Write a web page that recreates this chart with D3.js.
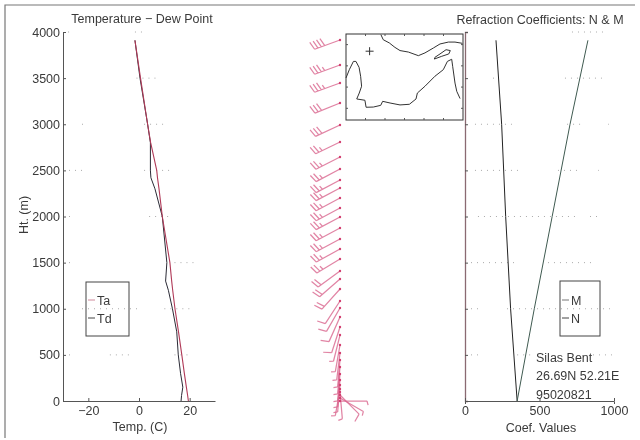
<!DOCTYPE html>
<html>
<head>
<meta charset="utf-8">
<script src="https://cdn.jsdelivr.net/npm/d3@7"></script>
<style>
  html, body { margin: 0; padding: 0; background: #fff; }
  svg { display: block; font-family: "Liberation Sans", sans-serif; filter: blur(0.45px); }
  .lab { font-size: 12.5px; fill: #3a3a3a; }
  .axis text { font-size: 12.5px; fill: #3a3a3a; }
  .axis path, .axis line { stroke: #555; }
</style>
</head>
<body>
<div id="chart"></div>
<script>
// temperature profile
const tempHt = [3910, 3500, 3000, 2800, 2500, 2420, 2300, 2000, 1500, 1300, 1200, 1000, 750, 500, 300, 150, 60, 0];
const ta = [-1.6, 0.6, 3.4, 4.6, 7, 7.3, 7.9, 9.2, 12.2, 12.9, 13.3, 14.2, 15.6, 16.9, 17.9, 18.7, 19.2, 19.5];
const td = [-1.6, 0.4, 3.4, 4.5, 4.5, 4.7, 6.3, 9.2, 11, 10.5, 11.6, 13.2, 14.9, 15.5, 16.4, 17.3, 16.8, 16.6];

// refraction coefficients
const refHt = [3910, 3000, 2000, 1000, 0];
const nVals = [208, 246, 273, 306, 350];
const mVals = [825, 705, 585, 465, 350];

// wind barbs
const windHt = [3913, 3642, 3447, 3230, 2992, 2808, 2645, 2515, 2396, 2309, 2200, 2092, 1995, 1875, 1756, 1648, 1539, 1409, 1322, 1214, 1084, 1008, 911, 802, 715, 607, 520, 444, 369, 293, 228, 173, 130, 98, 65, 33, 0];
const windDir = [250, 250, 250, 248, 245, 244, 243, 242, 242, 242, 242, 242, 242, 242, 242, 241, 239, 234, 229, 222, 213, 210, 204, 198, 194, 190, 187, 185, 185, 185, 185, 185, 190, 175, 135, 120, 90];
const windSpd = [40, 35, 35, 30, 30, 25, 25, 25, 25, 25, 25, 25, 25, 25, 25, 25, 25, 20, 20, 20, 10, 10, 10, 10, 5, 5, 5, 5, 5, 5, 5, 5, 5, 5, 10, 5, 5];

// inset map, lon / lat
const northCoast = [[52.79,27.47],[52.91,27.23],[53.22,27.08],[53.51,26.87],[53.77,26.72],[54.20,26.65],[54.71,26.48],[55.05,26.61],[55.48,26.84],[55.82,27.03],[56.25,27.12],[56.59,27.12],[56.97,27.06]];
const southCoast = [[51.00,25.43],[51.17,25.82],[51.38,26.21],[51.51,26.21],[51.67,25.93],[51.75,25.51],[51.80,25.04],[51.68,24.72],[51.55,24.44],[51.97,24.38],[52.03,24.05],[52.40,24.06],[52.78,24.14],[52.88,24.33],[53.26,24.25],[53.77,24.16],[54.25,24.19],[54.59,24.44],[54.66,24.72],[55.05,25.04],[55.56,25.51],[55.99,25.82],[56.20,26.21],[56.42,26.31],[56.47,25.98],[56.59,25.19],[56.68,24.80],[56.85,24.46]];
const island = [[55.56,26.40],[55.82,26.56],[56.13,26.76],[56.35,26.72],[56.27,26.56],[55.91,26.45],[55.53,26.32],[55.56,26.40]];
const station = [52.21, 26.69];

// faint dotted grid that survived the scan: height, from, to
const tempDots = [[4000,-28,-26],[4000,-1.6,2.4],[3500,-1,7],[3000,-22.5,-22],[3000,2,9.5],[2500,-30,-22.5],[2500,2,13],[2000,-30,-26],[2000,4,12],[1500,-30,-26.5],[1500,14,22],[1000,-22.5,0],[1000,10,21],[500,-30,-26],[500,-11.5,-2.5],[500,14,20]];
const coefDots = [[4000,718,940],[3500,188,195],[3500,671,919],[3000,67,315],[3000,685,805],[3000,960,965],[2500,67,383],[2500,624,785],[2500,893,898],[2000,87,752],[2000,839,893],[1500,0,349],[1500,557,872],[1000,0,100],[1000,282,973],[500,0,100],[500,350,456],[500,859,993]];

const svg = d3.select("#chart").append("svg").attr("width", 640).attr("height", 440);

const y = d3.scaleLinear().domain([0, 4000]).range([401, 32]);
const xTemp = d3.scaleLinear().domain([-30, 30]).range([63, 215]);
const xCoef = d3.scaleLinear().domain([0, 1000]).range([465, 614]);
const lonX = d3.scaleLinear().domain([51, 57]).range([346, 463]);
const latY = d3.scaleLinear().domain([23.45, 27.5]).range([120, 34]);

// scan border
svg.append("path").attr("d", "M5,438V5H635").attr("fill", "none").attr("stroke", "#777").attr("stroke-width", 1.2);

function dots(rows, x) {
  svg.append("g").selectAll("line").data(rows).join("line")
    .attr("x1", (d) => x(d[1])).attr("x2", (d) => x(d[2]))
    .attr("y1", (d) => y(d[0])).attr("y2", (d) => y(d[0]))
    .attr("stroke", "#aaa").attr("stroke-dasharray", "1 5");
}
dots(tempDots, xTemp);
dots(coefDots, xCoef);

// axes, ticks point inwards
const yTicks = d3.range(0, 4001, 500);
svg.append("g").attr("class", "axis").attr("transform", `translate(${xTemp(-30)},0)`)
  .call(d3.axisLeft(y).tickValues(yTicks).tickSize(-3).tickPadding(3).tickFormat(d3.format("d")));
svg.append("g").attr("class", "axis").attr("transform", "translate(0,401)")
  .call(d3.axisBottom(xTemp).tickValues([-20, 0, 20]).tickSize(-3).tickSizeOuter(0).tickPadding(5).tickFormat((d) => (d < 0 ? "\u2212" + -d : d)));
const coefAxis = svg.append("g").attr("class", "axis").attr("transform", `translate(${xCoef(0)},0)`)
  .call(d3.axisLeft(y).tickValues(yTicks).tickSize(-3).tickFormat(""));
coefAxis.select("path").style("stroke", "#8a6a72").style("stroke-width", 1.3);
svg.append("g").attr("class", "axis").attr("transform", "translate(0,401)")
  .call(d3.axisBottom(xCoef).tickValues([0, 500, 1000]).tickSize(-3).tickSizeOuter(3).tickPadding(5).tickFormat(d3.format("d")));

const tempLine = (vals) => d3.line().x((d) => xTemp(d)).y((d, i) => y(tempHt[i]))(vals);
const coefLine = (vals) => d3.line().x((d) => xCoef(d)).y((d, i) => y(refHt[i]))(vals);

svg.append("path").attr("d", tempLine(td)).attr("fill", "none").attr("stroke", "#2a2a35").attr("stroke-width", 1);
svg.append("path").attr("d", tempLine(ta)).attr("fill", "none").attr("stroke", "#b03a58").attr("stroke-width", 1.1);
svg.append("path").attr("d", coefLine(nVals)).attr("fill", "none").attr("stroke", "#222").attr("stroke-width", 1);
svg.append("path").attr("d", coefLine(mVals)).attr("fill", "none").attr("stroke", "#3f5a50").attr("stroke-width", 1);

// wind barbs, staff points to where the wind comes from
const windX = 340, staffLen = 27, featherLen = 8.5, featherGap = 3.6;
const windG = svg.append("g").attr("stroke", "#d9668e").attr("fill", "none").attr("stroke-opacity", 0.8).attr("stroke-width", 1.25);
windHt.forEach((h, i) => {
  const yTip = y(h);
  const a = (windDir[i] * Math.PI) / 180;
  const b = a + (75 * Math.PI) / 180;
  const ux = Math.sin(a), uy = -Math.cos(a);
  const fx = Math.sin(b), fy = -Math.cos(b);
  let path = `M${windX},${yTip}l${ux * staffLen},${uy * staffLen}`;
  let left = windSpd[i];
  let pos = staffLen;
  while (left > 0) {
    const len = left >= 10 ? featherLen : featherLen / 2;
    const px = windX + ux * pos, py = yTip + uy * pos;
    path += `M${px},${py}l${fx * len},${fy * len}`;
    left -= 10;
    pos -= featherGap;
  }
  windG.append("path").attr("d", path);
  svg.append("circle").attr("cx", windX).attr("cy", yTip).attr("r", 1.2).attr("fill", "#d23f70");
});

// inset map
svg.append("rect").attr("x", lonX(51)).attr("y", latY(27.5))
  .attr("width", lonX(57) - lonX(51)).attr("height", latY(23.45) - latY(27.5))
  .attr("fill", "#fff").attr("stroke", "#333");
const mapLine = d3.line().x((d) => lonX(d[0])).y((d) => latY(d[1]));
[northCoast, southCoast, island].forEach((c) => {
  svg.append("path").attr("d", mapLine(c)).attr("fill", "none").attr("stroke", "#333").attr("stroke-width", 1);
});
const sx = lonX(station[0]), sy = latY(station[1]);
svg.append("path").attr("d", `M${sx - 4},${sy}h8M${sx},${sy - 4}v8`).attr("stroke", "#333");
[52, 53, 54, 55, 56].forEach((d) => {
  svg.append("line").attr("x1", lonX(d)).attr("x2", lonX(d)).attr("y1", 34).attr("y2", 36).attr("stroke", "#555");
  svg.append("line").attr("x1", lonX(d)).attr("x2", lonX(d)).attr("y1", 118).attr("y2", 120).attr("stroke", "#555");
});
[24, 25, 26, 27].forEach((d) => {
  svg.append("line").attr("x1", 346).attr("x2", 348).attr("y1", latY(d)).attr("y2", latY(d)).attr("stroke", "#555");
  svg.append("line").attr("x1", 461).attr("x2", 463).attr("y1", latY(d)).attr("y2", latY(d)).attr("stroke", "#555");
});

// legends
function legend(bx, by, w, h, rows) {
  svg.append("rect").attr("x", bx).attr("y", by).attr("width", w).attr("height", h)
    .attr("fill", "none").attr("stroke", "#444");
  rows.forEach((r) => {
    svg.append("line").attr("x1", bx + 2).attr("x2", bx + 9).attr("y1", r.y).attr("y2", r.y).attr("stroke", r.color);
    svg.append("text").attr("class", "lab").attr("x", bx + 11).attr("y", r.y).attr("dy", "0.36em").text(r.name);
  });
}
legend(86, 282, 43, 54, [{ name: "Ta", y: 300, color: "#d08a9c" }, { name: "Td", y: 318, color: "#444" }]);
legend(560, 281, 40, 55, [{ name: "M", y: 300, color: "#777" }, { name: "N", y: 318, color: "#444" }]);

function label(txt, x, yy, anchor) {
  return svg.append("text").attr("class", "lab").attr("x", x).attr("y", yy)
    .attr("dy", "0.36em").attr("text-anchor", anchor || "middle").text(txt);
}
label("Temperature \u2212 Dew Point", 142, 18);
label("Refraction Coefficients: N & M", 540, 19);
label("Temp. (C)", 140, 426);
label("Coef. Values", 541, 427);
label("Silas Bent", 536, 357, "start");
label("26.69N 52.21E", 536, 375, "start");
label("95020821", 536, 394, "start");
svg.append("text").attr("class", "lab").attr("transform", "translate(23,215) rotate(-90)")
  .attr("dy", "0.36em").attr("text-anchor", "middle").text("Ht. (m)");
</script>
</body>
</html>
